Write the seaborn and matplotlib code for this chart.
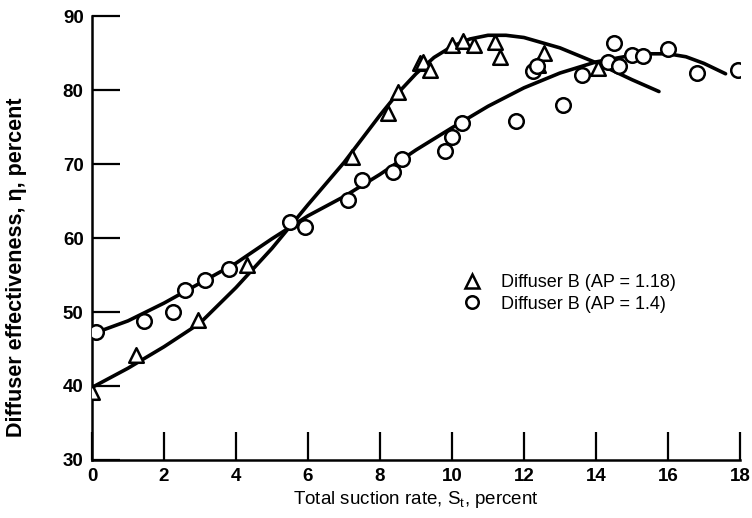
import matplotlib
matplotlib.use('Agg')
import matplotlib.pyplot as plt
from matplotlib.lines import Line2D
import seaborn as sns

sns.set_theme(style="white")
plt.rcParams['font.family'] = ['Liberation Sans', 'DejaVu Sans']
plt.rcParams['text.color'] = 'black'
plt.rcParams['axes.labelcolor'] = 'black'
plt.rcParams['xtick.color'] = 'black'
plt.rcParams['ytick.color'] = 'black'

# Measured points, diffuser B (AP = 1.18) -- triangles
tri_x = [0.0, 1.22, 2.94, 4.3, 7.22, 8.22, 8.5, 9.1, 9.2, 9.4, 10.0, 10.3, 10.6,
         11.2, 11.33, 12.4, 12.55, 14.05]
tri_y = [39.2, 44.2, 48.9, 56.3, 70.9, 76.9, 79.7, 83.6, 83.8, 82.7, 86.1, 86.6, 86.1,
         86.5, 84.5, 83.4, 85.0, 83.0]

# Measured points, diffuser B (AP = 1.4) -- circles
circ_x = [0.1, 1.44, 2.26, 2.58, 3.14, 3.8, 5.5, 5.92, 7.1, 7.5, 8.36, 8.6, 9.8,
          10.0, 10.27, 11.78, 12.25, 12.35, 13.08, 13.6, 14.33, 14.5, 14.64, 15.0,
          15.3, 16.0, 16.8, 17.95]
circ_y = [47.3, 48.8, 50.0, 53.0, 54.3, 55.8, 62.2, 61.5, 65.1, 67.8, 68.9, 70.7, 71.8,
          73.7, 75.5, 75.8, 82.6, 83.2, 78.0, 82.0, 83.8, 86.4, 83.2, 84.7,
          84.6, 85.6, 82.3, 82.7]

# Faired curves
tri_curve_x = [0, 1, 2, 3, 4, 5, 6, 7, 8, 8.5, 9, 9.5, 10, 10.5, 11, 11.5, 12, 13, 14, 15, 15.75]
tri_curve_y = [39.8, 42.4, 45.3, 48.5, 53.3, 58.6, 64.5, 70.2, 76.6, 79.6, 82.2, 84.4, 85.9,
               86.9, 87.4, 87.4, 87.1, 85.7, 83.7, 81.4, 79.8]

circ_curve_x = [0.1, 1, 2, 3, 4, 5, 6, 7, 8, 9, 10, 11, 12, 13, 14, 15, 15.5, 16, 16.5, 17, 17.6]
circ_curve_y = [47.2, 48.8, 51.2, 53.9, 56.6, 59.9, 63.0, 65.6, 68.6, 71.9, 74.9, 77.8, 80.3,
                82.3, 83.8, 84.7, 84.9, 84.9, 84.5, 83.6, 82.2]

labels = ['Diffuser B (AP = 1.18)', 'Diffuser B (AP = 1.4)']

fig = plt.figure(figsize=(7.52, 5.18), dpi=100)
ax = fig.add_axes([0.1223, 0.112, 0.8617, 0.857])

sns.lineplot(x=tri_curve_x, y=tri_curve_y, ax=ax, color='black', lw=2.6, sort=False)
sns.lineplot(x=circ_curve_x, y=circ_curve_y, ax=ax, color='black', lw=2.6, sort=False)

sns.scatterplot(x=tri_x, y=tri_y, ax=ax, marker='^', s=110, facecolor='white',
                edgecolor='black', linewidth=1.8, zorder=3)
sns.scatterplot(x=circ_x, y=circ_y, ax=ax, marker='o', s=110, facecolor='white',
                edgecolor='black', linewidth=1.8, zorder=3)

ax.set_xlim(0, 18)
ax.set_ylim(30, 90)
ax.set_xticks(range(0, 19, 2))
ax.set_yticks(range(30, 91, 10))
ax.tick_params(direction='in', length=20, width=1.6, color='black',
               labelsize=13.5, pad=6, bottom=True, left=True)
for lab in ax.get_xticklabels() + ax.get_yticklabels():
    lab.set_fontweight('bold')

for side in ['top', 'right']:
    ax.spines[side].set_visible(False)
for side in ['left', 'bottom']:
    ax.spines[side].set_color('black')
    ax.spines[side].set_linewidth(1.8)

ax.set_xlabel(r'Total suction rate, $\mathregular{S_t}$, percent', fontsize=13.5, labelpad=3)
ax.set_ylabel('Diffuser effectiveness, η, percent', fontsize=15.5, fontweight='bold')
ax.yaxis.set_label_coords(-0.1, 0.435)

handles = [
    Line2D([], [], marker='^', ls='none', markersize=9.5, markerfacecolor='white',
           markeredgecolor='black', markeredgewidth=1.8),
    Line2D([], [], marker='o', ls='none', markersize=9, markerfacecolor='white',
           markeredgecolor='black', markeredgewidth=1.8),
]
ax.legend(handles, labels, loc='center left', bbox_to_anchor=(0.545, 0.375),
          frameon=False, fontsize=13, handletextpad=1.0, labelspacing=0.25,
          handlelength=1.2)

fig.savefig('out.png', dpi=100)
